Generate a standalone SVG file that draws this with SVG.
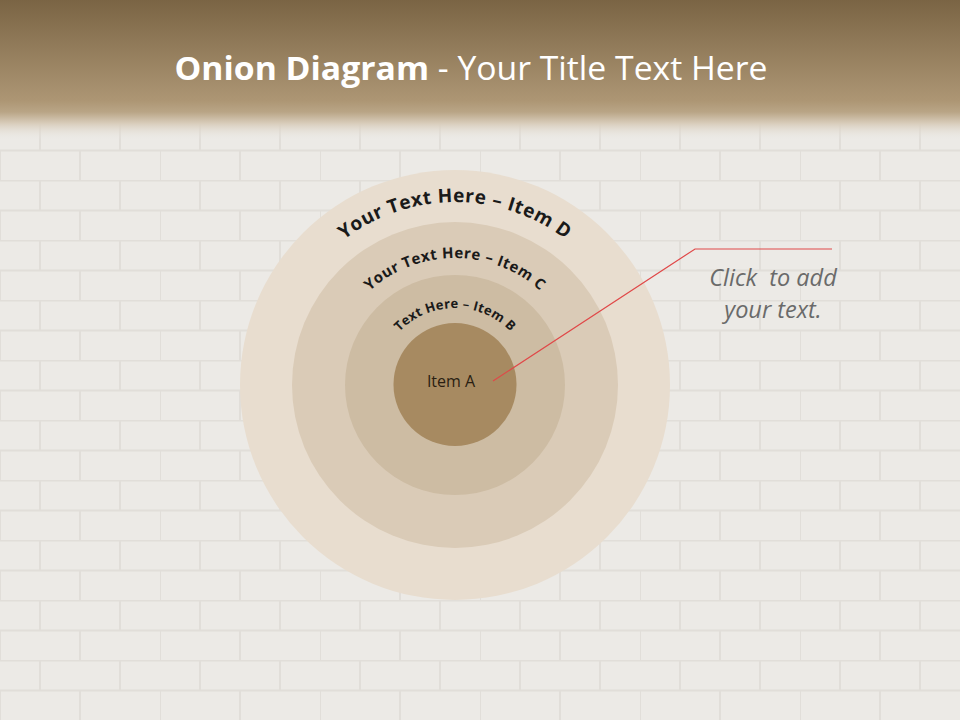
<svg xmlns="http://www.w3.org/2000/svg" xmlns:xlink="http://www.w3.org/1999/xlink" width="960" height="720" viewBox="0 0 960 720">
<defs>
<style>
.arc{font-family:"Open Sans","Liberation Sans",sans-serif;font-weight:bold;fill:#1a1a1a}
.note{font-family:"Open Sans","Liberation Sans",sans-serif;font-style:italic;font-size:23.5px;fill:#6a6a6a}
</style>
<linearGradient id="hdr" x1="0" y1="0" x2="0" y2="1">
<stop offset="0" stop-color="#7a6444"/>
<stop offset="0.72" stop-color="#ad9674"/>
<stop offset="0.8" stop-color="#b9a586"/>
<stop offset="0.88" stop-color="#d8ccba"/>
<stop offset="1" stop-color="#eae8e4" stop-opacity="0"/>
</linearGradient>
<pattern id="brick" width="160" height="60" patternUnits="userSpaceOnUse">
<rect width="160" height="60" fill="#eceae6"/>
<path d="M0 0.5H160M0 30.5H160M40 0V30M120 0V30M0 30V60M80 30V60" stroke="#e1ded9" stroke-width="2" fill="none"/>
</pattern>
<path id="pD" d="M 272 385 A 183 183 0 0 1 638 385"/>
<path id="pC" d="M 328 385 A 127 127 0 0 1 582 385"/>
<path id="pB" d="M 378 385 A 77 77 0 0 1 532 385"/>
</defs>
<rect width="960" height="720" fill="url(#brick)"/>
<rect width="960" height="140" fill="url(#hdr)"/>
<text x="471" y="80" text-anchor="middle" textLength="593" lengthAdjust="spacingAndGlyphs" font-family="'Open Sans','Liberation Sans',sans-serif" font-size="32" fill="#ffffff"><tspan font-weight="bold">Onion Diagram</tspan> - Your Title Text Here</text>
<g id="itemD">
<circle cx="455" cy="385" r="215" fill="#e8ddcf"/>
<text class="arc" font-size="19" letter-spacing="0.6"><textPath xlink:href="#pD" href="#pD" startOffset="50%" text-anchor="middle">Your Text Here – Item D</textPath></text>
</g>
<g id="itemC">
<circle cx="455" cy="385" r="163" fill="#dacbb7"/>
<text class="arc" font-size="15" letter-spacing="0.5"><textPath xlink:href="#pC" href="#pC" startOffset="50%" text-anchor="middle">Your Text Here – Item C</textPath></text>
</g>
<g id="itemB">
<circle cx="455" cy="385" r="110" fill="#cdbca3"/>
<text class="arc" font-size="13" letter-spacing="0.3"><textPath xlink:href="#pB" href="#pB" startOffset="50%" text-anchor="middle">Text Here – Item B</textPath></text>
</g>
<g id="itemA">
<circle cx="455" cy="384.5" r="61.5" fill="#a78a61"/>
<text x="451" y="387" text-anchor="middle" font-family="'Open Sans','Liberation Sans',sans-serif" font-size="16" fill="#2a1e12">Item A</text>
</g>
<g id="connectors">
<polyline points="493,381 695,249 832,249" fill="none" stroke="#e04848" stroke-width="1.2"/>
</g>
<g id="note">
<text class="note" x="773" y="286" text-anchor="middle" xml:space="preserve">Click  to add</text>
<text class="note" x="773" y="318" text-anchor="middle">your text.</text>
</g>
</svg>
